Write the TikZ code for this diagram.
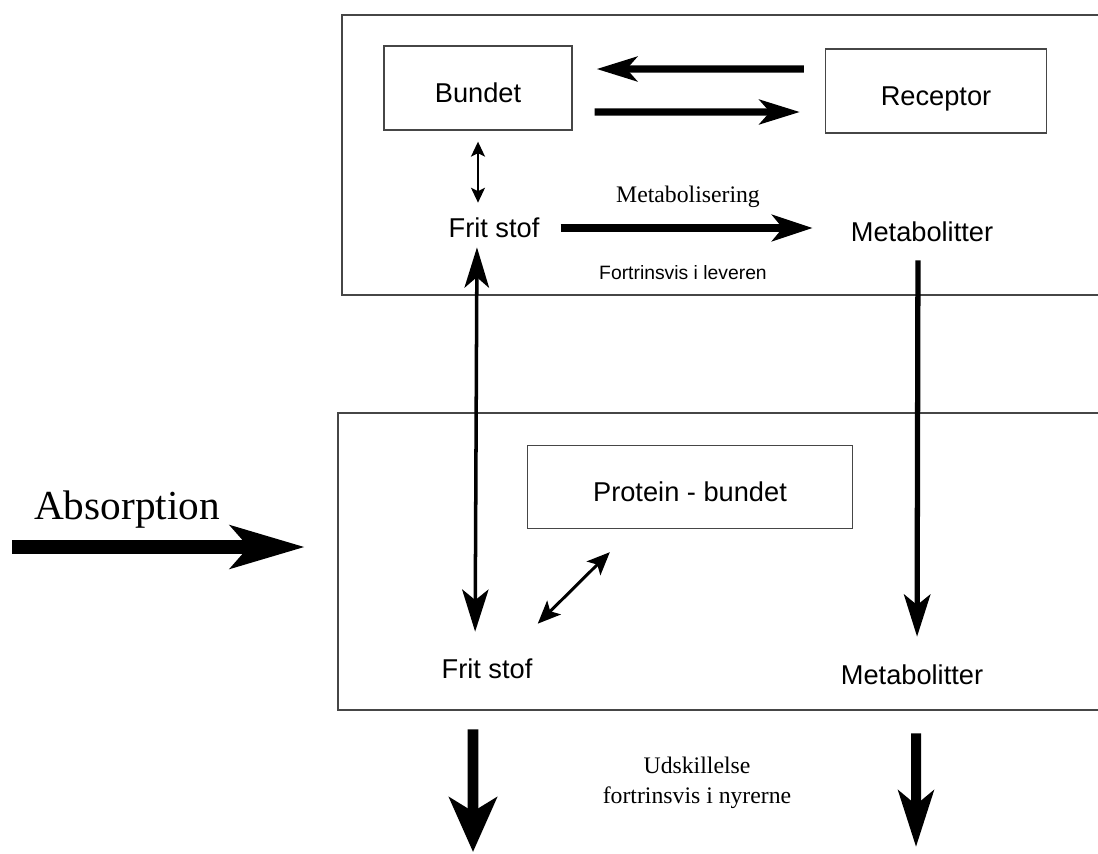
\documentclass[tikz,border=0pt]{standalone}
\usepackage{fontspec}
\setmainfont{Liberation Serif}
\setsansfont{Liberation Sans}
\usetikzlibrary{arrows.meta}
\definecolor{framegray}{RGB}{70,70,70}

\begin{document}
\begin{tikzpicture}[x=0.02cm, y=-0.02cm,
  frame/.style={draw=framegray, line width=0.7pt},
  box/.style={draw=framegray, line width=0.8pt, minimum height=1.68cm, inner sep=0pt,
    text height=17pt, text depth=0pt, font=\sffamily\fontsize{15.5}{18}\selectfont},
  lbl/.style={inner sep=0pt, font=\sffamily\fontsize{15.5}{18}\selectfont},
  note/.style={inner sep=0pt, align=center, font=\fontsize{13.5}{17}\selectfont}]
\useasboundingbox (0,0) rectangle (1098,853);

% Compartments
\draw[frame] (1098,15) -- (342,15) -- (342,295) -- (1098,295);
\draw[frame] (1098,413) -- (338,413) -- (338,710) -- (1098,710);

% Boxes
\node[box, minimum width=3.76cm] (bund) at (478,88) {Bundet};
\node[box, minimum width=4.42cm] (rec) at (936,91) {Receptor};
\node[box, minimum width=6.5cm, minimum height=1.66cm] (prot) at (690,487) {Protein - bundet};

% Free and metabolised drug
\node[lbl] (frit1) at (494,228) {Frit stof};
\node[lbl] (met1) at (922,232) {Metabolitter};
\node[lbl] (frit2) at (487,669) {Frit stof};
\node[lbl] (met2) at (912,675) {Metabolitter};

% Notes
\node[note] (metab) at (688,197) {Metabolisering};
\node[inner sep=0pt, font=\sffamily\fontsize{11}{13}\selectfont] (lever) at (683,273) {Fortrinsvis i leveren};
\node[inner sep=0pt, font=\fontsize{23.5}{28}\selectfont] (absorb) at (127,510) {Absorption};
\node[note] (udsk) at (697,783) {Udskillelse\\fortrinsvis i nyrerne};

\coordinate (absin) at (12,547);
\coordinate (absout) at (305,547);
\coordinate (out1) at (473,852);
\coordinate (out2) at (916,847);

% Arrows
\draw[line width=4pt, -{Stealth[length=23pt, width=14pt, inset=6pt]}, shorten <=0.42cm, shorten >=0.48cm]
  ([yshift=0.44cm]rec.west) -- ([yshift=0.38cm]bund.east);
\draw[line width=4pt, -{Stealth[length=23pt, width=14pt, inset=6pt]}, shorten <=0.44cm, shorten >=0.5cm]
  ([yshift=-0.48cm]bund.east) -- ([yshift=-0.42cm]rec.west);
\draw[line width=0.85pt, {Stealth[length=8.5pt, width=8pt, inset=2pt]}-{Stealth[length=8.5pt, width=8pt, inset=2pt]},
  shorten <=0.22cm, shorten >=0.3cm] (bund.south) -- (bund.south |- frit1.north);
\draw[line width=4pt, -{Stealth[length=23pt, width=15pt, inset=6pt]}, shorten <=0.42cm, shorten >=0.76cm]
  (frit1.east) -- (met1.west |- frit1.east);
\draw[line width=2pt, {Stealth[length=23pt, width=14pt, inset=6pt]}-{Stealth[length=24pt, width=15pt, inset=6pt]},
  shorten <=0.18cm, shorten >=0.54cm] ([xshift=-0.34cm]frit1.south) -- ([xshift=-0.24cm]frit2.north);
\draw[line width=3pt, -{Stealth[length=24pt, width=15pt, inset=6pt]}, shorten <=0.36cm, shorten >=0.56cm]
  ([xshift=-0.08cm]met1.south) -- ([xshift=0.1cm]met2.north);
\draw[line width=1.7pt, {Stealth[length=13pt, width=11pt, inset=3pt]}-{Stealth[length=13pt, width=11pt, inset=3pt]}]
  ([xshift=0.1cm, yshift=0.7cm]frit2.north east) -- ([xshift=1.66cm, yshift=-0.46cm]prot.south west);
\draw[line width=8.5pt, -{Stealth[length=42pt, width=24pt, inset=10pt]}] (absin) -- (absout);
\draw[line width=6.2pt, -{Stealth[length=31pt, width=27pt, inset=8pt]}, shorten <=1cm]
  ([xshift=-0.28cm]frit2.south) -- (out1);
\draw[line width=5.7pt, -{Stealth[length=32pt, width=20pt, inset=8pt]}, shorten <=0.96cm]
  ([xshift=0.08cm]met2.south) -- (out2);
\end{tikzpicture}
\end{document}
